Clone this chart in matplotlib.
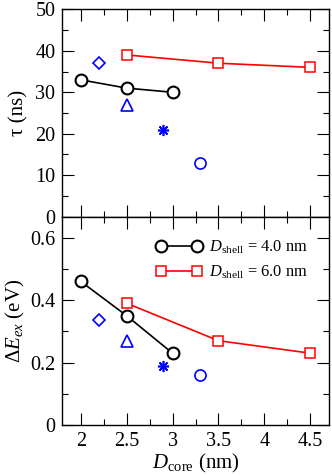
import numpy as np
import matplotlib.pyplot as plt
from matplotlib.ticker import MultipleLocator, FormatStrFormatter

plt.rcParams['font.family'] = ['Liberation Serif', 'DejaVu Serif']
plt.rcParams['mathtext.fontset'] = 'custom'
plt.rcParams['mathtext.rm'] = 'Liberation Serif'
plt.rcParams['mathtext.it'] = 'Liberation Serif:italic'

# D_core (nm) for the two shell series
d_core_s4 = [2.0, 2.5, 3.0]
d_core_s6 = [2.5, 3.5, 4.5]

# lifetimes tau (ns)
tau_s4 = [33, 31, 30]
tau_s6 = [39, 37, 36]

# exchange splitting dE_ex (eV)
dE_s4 = [0.46, 0.35, 0.23]
dE_s6 = [0.39, 0.27, 0.23]

# single blue reference points: (marker, D_core, tau, dE)
ref_markers = ['D', '^', (8, 2, 0), 'o']
ref_dcore = [2.2, 2.5, 2.9, 3.3]
ref_tau = [37, 27, 21, 13]
ref_dE = [0.335, 0.27, 0.19, 0.16]
ref_sizes = [6.5, 9, 8, 8]

labels = [r'$D_{\rm shell}$ = 4.0 nm', r'$D_{\rm shell}$ = 6.0 nm']

fig = plt.figure(figsize=(3.32, 4.76), dpi=100)
ax1 = fig.add_axes([0.1877, 0.5447, 0.8024, 0.4358])
ax2 = fig.add_axes([0.1877, 0.1071, 0.8024, 0.4376])


def draw(ax, y4, y6, yref):
    ax.plot(d_core_s4, y4, color='black', lw=1.2, marker='o', ms=8.5,
            mfc='white', mec='black', mew=1.5, label=labels[0])
    ax.plot(d_core_s6, y6, color='red', lw=1.2, marker='s', ms=7.5,
            mfc='white', mec='red', mew=1.1, label=labels[1])
    for m, x, y, s in zip(ref_markers, ref_dcore, yref, ref_sizes):
        ax.plot([x], [y], linestyle='none', marker=m, ms=s, mfc='none',
                mec='blue', mew=1.2)


draw(ax1, tau_s4, tau_s6, ref_tau)
draw(ax2, dE_s4, dE_s6, ref_dE)

for ax in (ax1, ax2):
    ax.set_xlim(1.8, 4.7)
    ax.xaxis.set_major_locator(MultipleLocator(0.5))
    ax.xaxis.set_minor_locator(MultipleLocator(0.25))
    ax.xaxis.set_major_formatter(FormatStrFormatter('%g'))
    ax.yaxis.set_major_formatter(FormatStrFormatter('%g'))
    ax.tick_params(which='both', direction='in', top=True, right=True,
                   width=0.8, labelsize=14.5, pad=5)
    ax.tick_params(which='major', length=8.3)
    ax.tick_params(which='minor', length=4)
    for sp in ax.spines.values():
        sp.set_linewidth(1.0)

ax1.set_ylim(0, 50)
ax1.yaxis.set_major_locator(MultipleLocator(10))
ax1.yaxis.set_minor_locator(MultipleLocator(5))
ax1.tick_params(labelbottom=False)
ax1.set_ylabel('τ (ns)', fontsize=15, labelpad=5)

ax2.set_ylim(0, 0.667)
ax2.yaxis.set_major_locator(MultipleLocator(0.2))
ax2.yaxis.set_minor_locator(MultipleLocator(0.1))
ax2.set_ylabel(r'$\Delta E_{ex}$ (eV)', fontsize=15, labelpad=2)
ax2.set_xlabel(r'$D_{\rm core}$ (nm)', fontsize=15, labelpad=1)

ax2.legend(loc='upper left', bbox_to_anchor=(0.352, 0.895), frameon=False,
           fontsize=11.8, handlelength=2.8, handletextpad=0.4,
           labelspacing=0.45, borderpad=0, borderaxespad=0, numpoints=2)

fig.savefig('out.png', dpi=100)
